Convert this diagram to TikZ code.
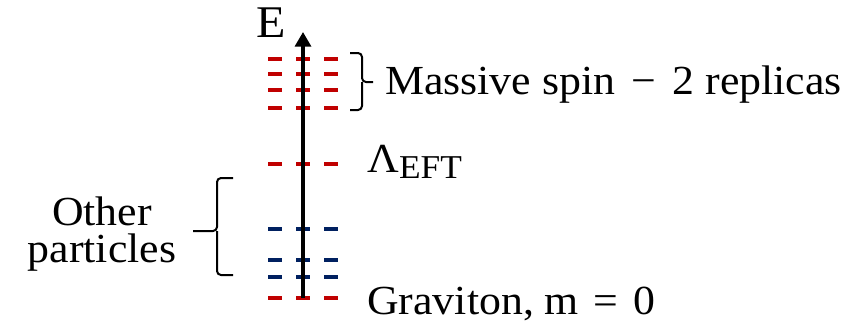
\documentclass[tikz,border=0pt]{standalone}
\usepackage{fontspec}
\setmainfont[FakeStretch=1.06]{Liberation Serif}
\usetikzlibrary{arrows.meta}
\definecolor{lvlred}{RGB}{192,0,0}
\definecolor{lvlblue}{RGB}{0,32,96}

\begin{document}
\begin{tikzpicture}[x=0.75pt, y=-0.75pt,
    lvl/.style={line width=3pt, dash pattern=on 10.5pt off 10.5pt},
    brc/.style={line width=1.5pt, rounded corners=3pt},
    lbl/.style={font=\fontsize{31}{28}\selectfont, inner sep=0pt, anchor=base west}
]
\useasboundingbox (0,0) rectangle (854,322);
%% energy levels
\foreach \y in {59,74,90,108,164,298}{
  \draw[lvl, lvlred] (268,\y) -- (338,\y);
}
\foreach \y in {229,260,277}{
  \draw[lvl, lvlblue] (268,\y) -- (338,\y);
}
%% energy axis
\coordinate (base) at (303,298);
\coordinate (tip) at (303,32);
\draw[line width=2.5pt, -{Triangle[length=11pt,width=12pt]}] (base) -- (tip);
\node[lbl, font=\fontsize{34}{40}\selectfont] (E) at (256,37) {E};
%% labels on the right
\node[lbl] (massive) at (385,94) {Massive spin\hspace{4pt} − \hspace{4pt}2 replicas};
\node[lbl] (lambda) at (367,172)
  {Λ\raisebox{-5pt}{\fontsize{25}{30}\selectfont EFT}};
\node[lbl] (graviton) at (367,314) {Graviton, m\hspace{3pt} = \hspace{3pt}0};
%% braces
\coordinate (bt) at (373,82);
\draw[brc] (350,53) -| (362,82) -- (bt);
\draw[brc] (350,110) -| (362,82);
\coordinate (bl) at (193,231);
\draw[brc] (233,178) -| (217,231) -- (bl);
\draw[brc] (233,275) -| (217,231);
\node[lbl, anchor=center, align=center] (others) at (102,234)
  {Other\\particles};
\end{tikzpicture}
\end{document}
